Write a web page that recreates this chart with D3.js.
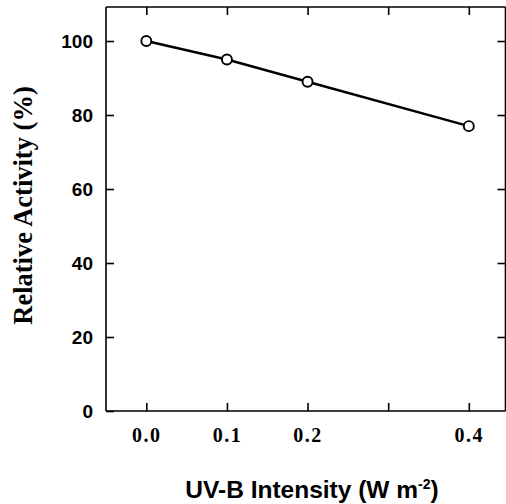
<!DOCTYPE html>
<html><head><meta charset="utf-8">
<script src="https://cdn.jsdelivr.net/npm/d3@7"></script>
<style>body{margin:0;background:#fff}svg{display:block}</style>
</head><body>
<script>
const intensity = [0.0, 0.1, 0.2, 0.4];
const activity = [100, 95, 89, 77];
const xTicks = [0.0, 0.1, 0.2, 0.3, 0.4];
const xTickLabels = ["0.0", "0.1", "0.2", "", "0.4"];
const yTicks = [0, 20, 40, 60, 80, 100];

(function () {
const W = 506, H = 504;
const svg = d3.select("body").append("svg").attr("width", W).attr("height", H);
const pL = 106, pR = 505.5, pT = 7, pB = 411;
const x = d3.scaleLinear().domain([-0.05, 0.4455]).range([pL, pR]);
const y = d3.scaleLinear().domain([0, 109.2]).range([pB, pT]);

const tl = 8;
const gb = svg.append("g").attr("transform", `translate(0,${pB})`)
  .call(d3.axisBottom(x).tickValues(xTicks).tickSizeInner(-tl).tickSizeOuter(0)
    .tickFormat((d, i) => xTickLabels[i]).tickPadding(17));
const gt = svg.append("g").attr("transform", `translate(0,${pT})`)
  .call(d3.axisTop(x).tickValues(xTicks).tickSizeInner(-tl).tickSizeOuter(0).tickFormat(""));
const gl = svg.append("g").attr("transform", `translate(${pL},0)`)
  .call(d3.axisLeft(y).tickValues(yTicks).tickSizeInner(-tl).tickSizeOuter(0).tickPadding(13));
const gr = svg.append("g").attr("transform", `translate(${pR},0)`)
  .call(d3.axisRight(y).tickValues(yTicks.filter(v => v > 0)).tickSizeInner(-tl).tickSizeOuter(0).tickFormat(""));

[gb, gt, gl, gr].forEach(g => {
  g.selectAll("path.domain").attr("stroke", "#000").attr("stroke-width", 1.6);
  g.selectAll(".tick line").attr("stroke", "#000").attr("stroke-width", 1.6);
});
gl.selectAll(".tick text").attr("font-family", "Liberation Sans, Arial, sans-serif")
  .attr("font-weight", "bold").attr("font-size", 19).attr("fill", "#000");
gb.selectAll(".tick text").attr("font-family", "Liberation Serif, Times New Roman, serif")
  .attr("font-weight", "bold").attr("font-size", 20).attr("letter-spacing", 1.5)
  .attr("fill", "#000");
gb.select("path.domain").attr("d", `M${pL},0H${pR}`);
gt.select("path.domain").attr("d", `M${pL},0H${pR}`);
gl.select("path.domain").attr("d", `M0,${pT}V${pB}`);
gr.select("path.domain").attr("d", `M0,${pT}V${pB}`);

const data = intensity.map((v, i) => ({x: v, y: activity[i]}));
svg.append("path").datum(data)
  .attr("fill", "none").attr("stroke", "#000").attr("stroke-width", 2.4)
  .attr("d", d3.line().x(d => x(d.x)).y(d => y(d.y)));
svg.selectAll("circle.pt").data(data).enter().append("circle")
  .attr("class", "pt")
  .attr("cx", d => x(d.x)).attr("cy", d => y(d.y)).attr("r", 5)
  .attr("fill", "#fff").attr("stroke", "#000").attr("stroke-width", 1.9);

svg.append("text")
  .attr("transform", `translate(32,205.5) rotate(-90)`)
  .attr("text-anchor", "middle")
  .attr("font-family", "Liberation Serif, Times New Roman, serif")
  .attr("font-weight", "bold").attr("font-size", 26.5).attr("fill", "#000")
  .text("Relative Activity (%)");

const xt = svg.append("text")
  .attr("x", 312).attr("y", 498)
  .attr("text-anchor", "middle")
  .attr("font-family", "Liberation Sans, Arial, sans-serif")
  .attr("font-weight", "bold").attr("font-size", 24.5).attr("fill", "#000");
xt.append("tspan").text("UV-B Intensity (W m");
xt.append("tspan").attr("dy", -9).attr("font-size", 14).text("-2");
xt.append("tspan").attr("dy", 9).text(")");
})();
</script>
</body></html>
